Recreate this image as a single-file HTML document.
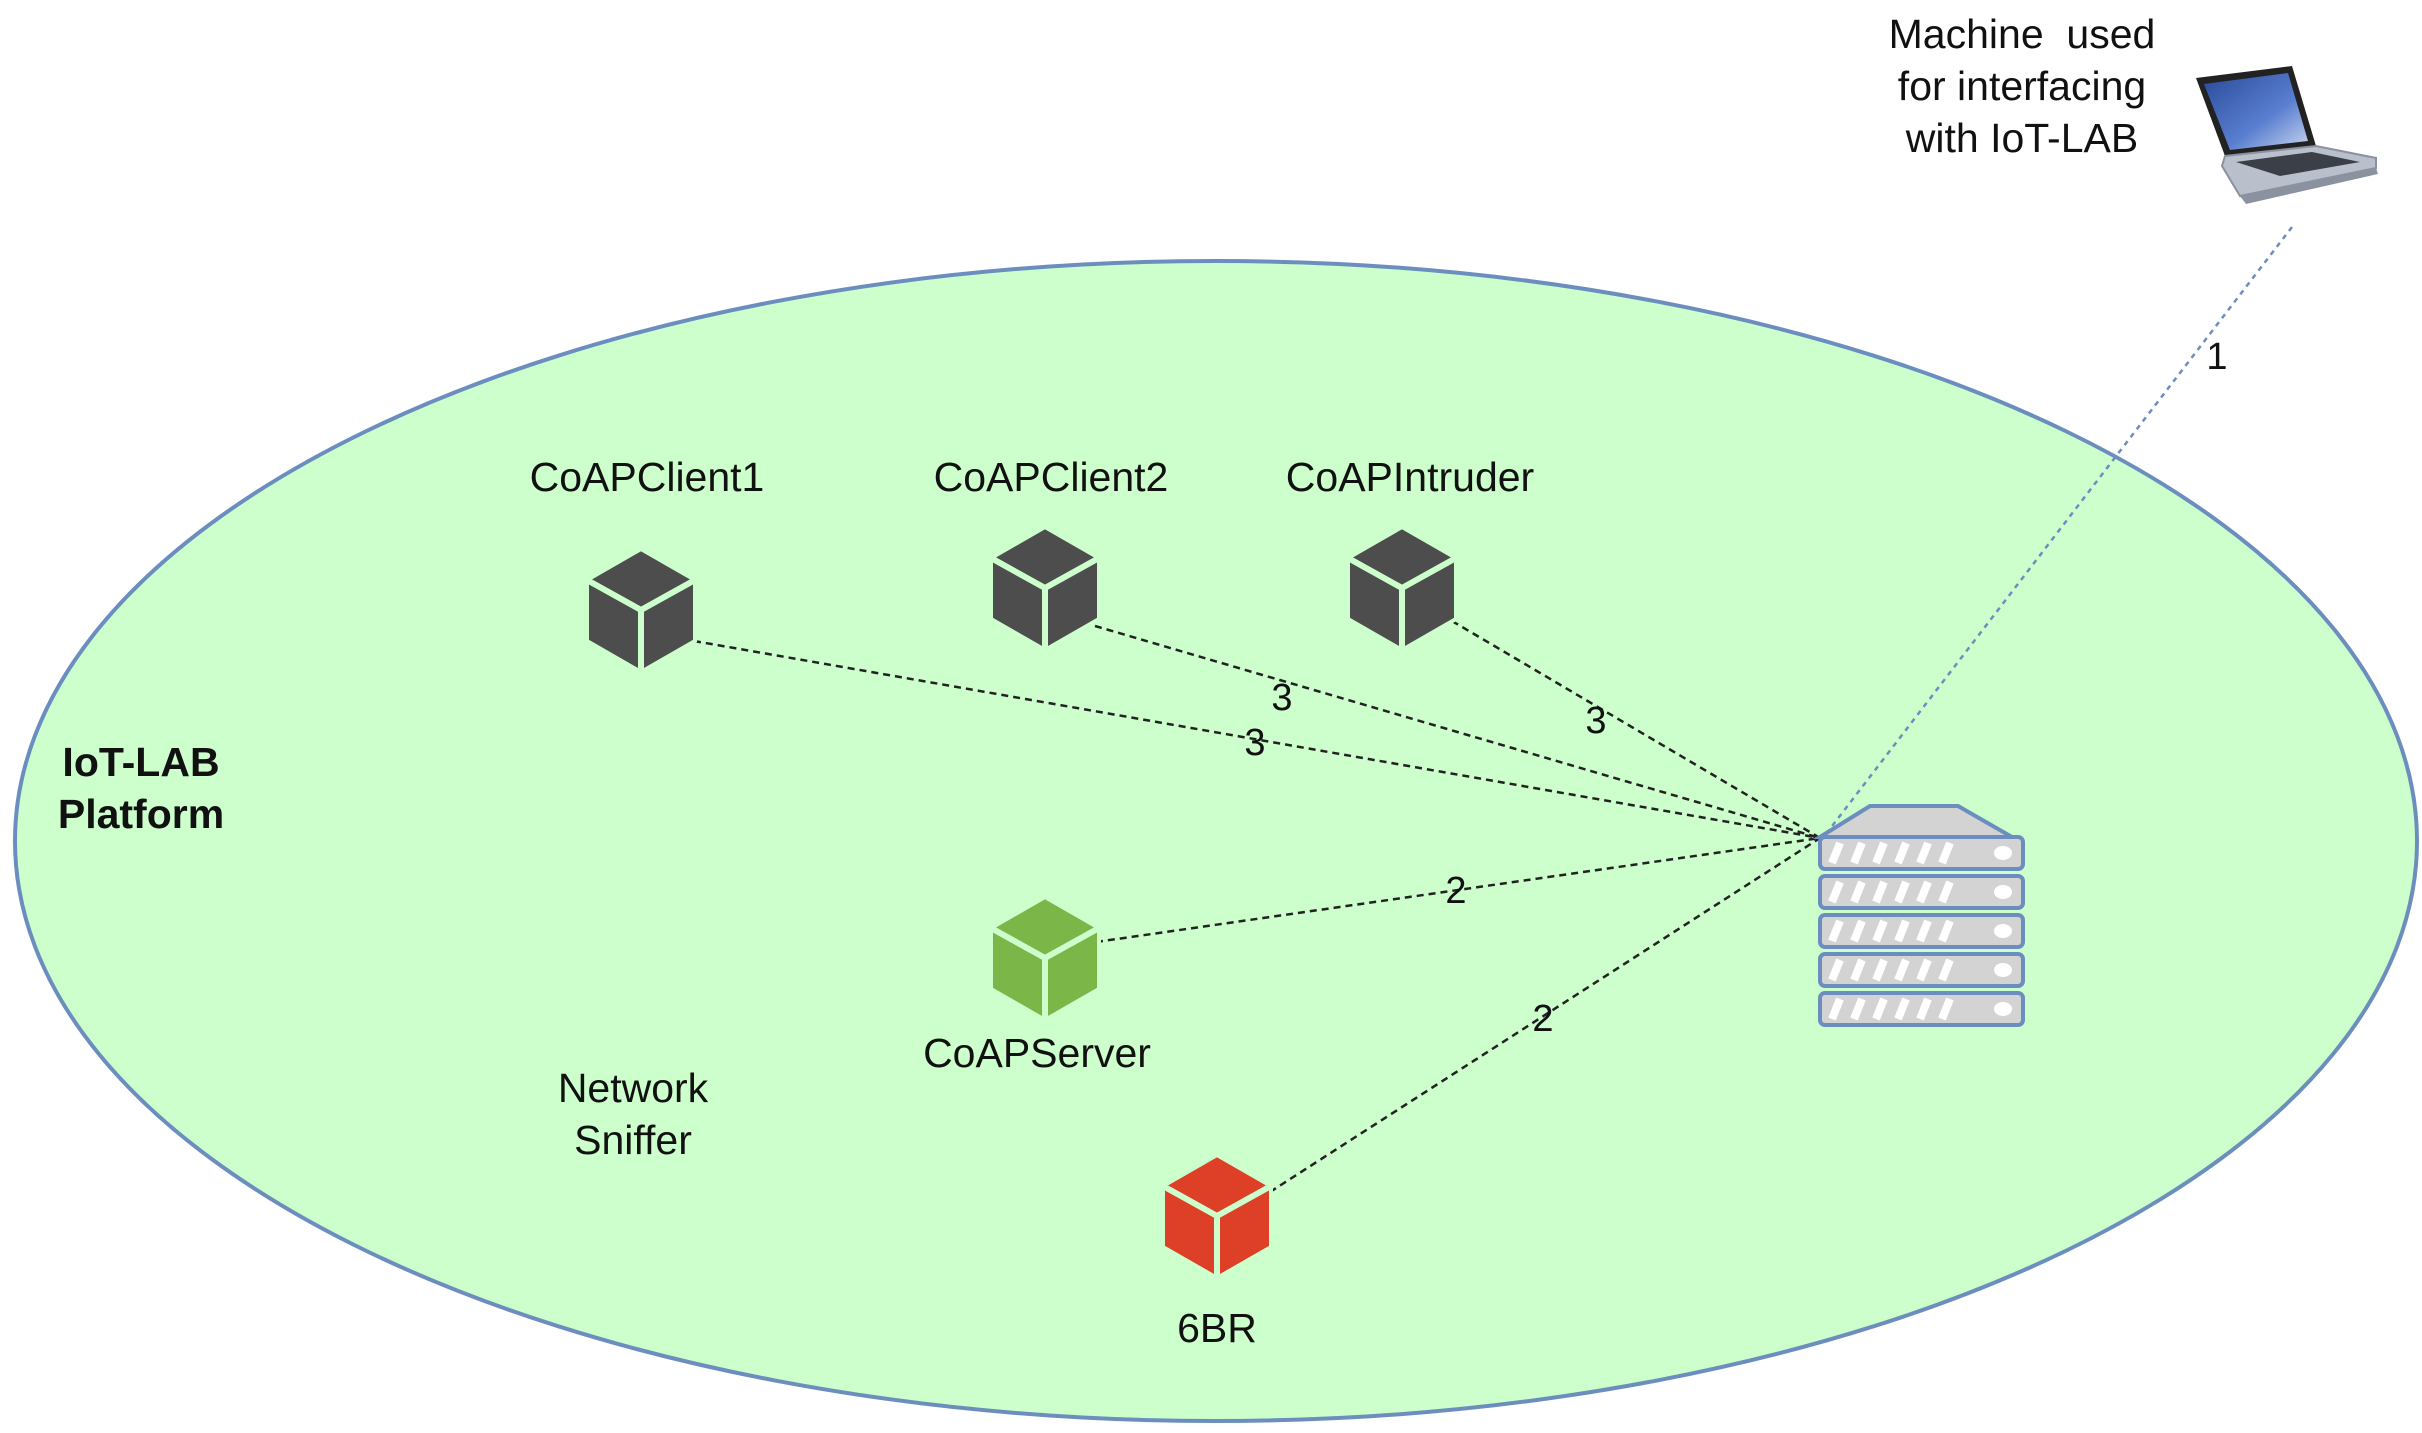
<!DOCTYPE html>
<html><head><meta charset="utf-8"><style>
html,body{margin:0;padding:0;background:#fff;}
svg{display:block;}
text{font-family:"Liberation Sans",Arial,sans-serif;fill:#111;}
</style></head><body>
<svg width="2422" height="1433" viewBox="0 0 2422 1433" xmlns="http://www.w3.org/2000/svg">
<defs>
<g id="cube">
<polygon points="0,-61 54,-30 54,31 0,62 -54,31 -54,-30" />
<polyline points="-54,-30 0,0 54,-30" fill="none" stroke="#ccffcc" stroke-width="6"/>
<line x1="0" y1="0" x2="0" y2="62" stroke="#ccffcc" stroke-width="6"/>
<polygon points="0,-61 54,-30 54,31 0,62 -54,31 -54,-30" fill="none" stroke="#ccffcc" stroke-width="4"/>
</g>
<linearGradient id="scr" x1="0" y1="0" x2="1" y2="1">
<stop offset="0" stop-color="#2a4a9a"/><stop offset="0.6" stop-color="#5a7fd0"/><stop offset="1" stop-color="#c8d4ee"/>
</linearGradient>
<g id="slab">
<rect x="0" y="0" width="203" height="32" rx="5" fill="#d3d3d3" stroke="#6c8ebf" stroke-width="4"/>
<g stroke="#fff" stroke-width="8">
<line x1="12" y1="26" x2="20" y2="6"/><line x1="34" y1="26" x2="42" y2="6"/><line x1="56" y1="26" x2="64" y2="6"/>
<line x1="78" y1="26" x2="86" y2="6"/><line x1="100" y1="26" x2="108" y2="6"/><line x1="122" y1="26" x2="130" y2="6"/>
</g>
<ellipse cx="183" cy="16" rx="9" ry="7" fill="#fff"/>
</g>
</defs>

<ellipse cx="1216" cy="841" rx="1201" ry="580" fill="#ccffcc" stroke="#6c8ebf" stroke-width="4"/>

<g stroke="#222" stroke-width="2.5" stroke-dasharray="7,5" fill="none">
<line x1="694" y1="641" x2="1820" y2="838"/>
<line x1="1095" y1="626" x2="1820" y2="838"/>
<line x1="1452" y1="621" x2="1820" y2="838"/>
<line x1="1096" y1="942" x2="1820" y2="838"/>
<line x1="1270" y1="1192" x2="1820" y2="838"/>
</g>
<line x1="2292" y1="227" x2="1826" y2="834" stroke="#6c8ebf" stroke-width="2.5" stroke-dasharray="5,5"/>

<g font-size="38" text-anchor="middle">
<text x="1282" y="710">3</text>
<text x="1255" y="755">3</text>
<text x="1596" y="733">3</text>
<text x="1456" y="903">2</text>
<text x="1543" y="1031">2</text>
<text x="2217" y="369">1</text>
</g>

<use href="#cube" x="641" y="610" fill="#4d4d4d"/>
<use href="#cube" x="1045" y="588" fill="#4d4d4d"/>
<use href="#cube" x="1402" y="588" fill="#4d4d4d"/>
<use href="#cube" x="1045" y="958" fill="#7ab648"/>
<use href="#cube" x="1217" y="1216" fill="#dd3f27"/>

<g font-size="41" text-anchor="middle">
<text x="647" y="491">CoAPClient1</text>
<text x="1051" y="491">CoAPClient2</text>
<text x="1410" y="491">CoAPIntruder</text>
<text x="1037" y="1067">CoAPServer</text>
<text x="1217" y="1342">6BR</text>
<text x="633" y="1102">Network</text>
<text x="633" y="1154">Sniffer</text>
<text x="2022" y="48">Machine&#160;&#160;used</text>
<text x="2022" y="100">for interfacing</text>
<text x="2022" y="152">with IoT-LAB</text>
</g>
<g font-size="41" font-weight="bold" text-anchor="middle">
<text x="141" y="776">IoT-LAB</text>
<text x="141" y="828">Platform</text>
</g>

<polygon points="1820,837 1870,806 1958,806 2012,837" fill="#d3d3d3" stroke="#6c8ebf" stroke-width="4"/>
<use href="#slab" x="1820" y="837"/>
<use href="#slab" x="1820" y="876"/>
<use href="#slab" x="1820" y="915"/>
<use href="#slab" x="1820" y="954"/>
<use href="#slab" x="1820" y="993"/>

<!-- laptop -->
<polygon points="2196,78 2292,66 2316,146 2225,156" fill="#222"/>
<polygon points="2204,84 2288,73 2308,141 2230,150" fill="url(#scr)"/>
<polygon points="2225,156 2316,146 2376,158 2376,168 2240,196 2222,166" fill="#b9c0cc" stroke="#8a92a0" stroke-width="2"/>
<polygon points="2236,162 2312,152 2360,162 2280,176" fill="#3a3f48"/>
<polygon points="2240,196 2376,168 2378,174 2246,204" fill="#8a92a0"/>
</svg>
</body></html>
